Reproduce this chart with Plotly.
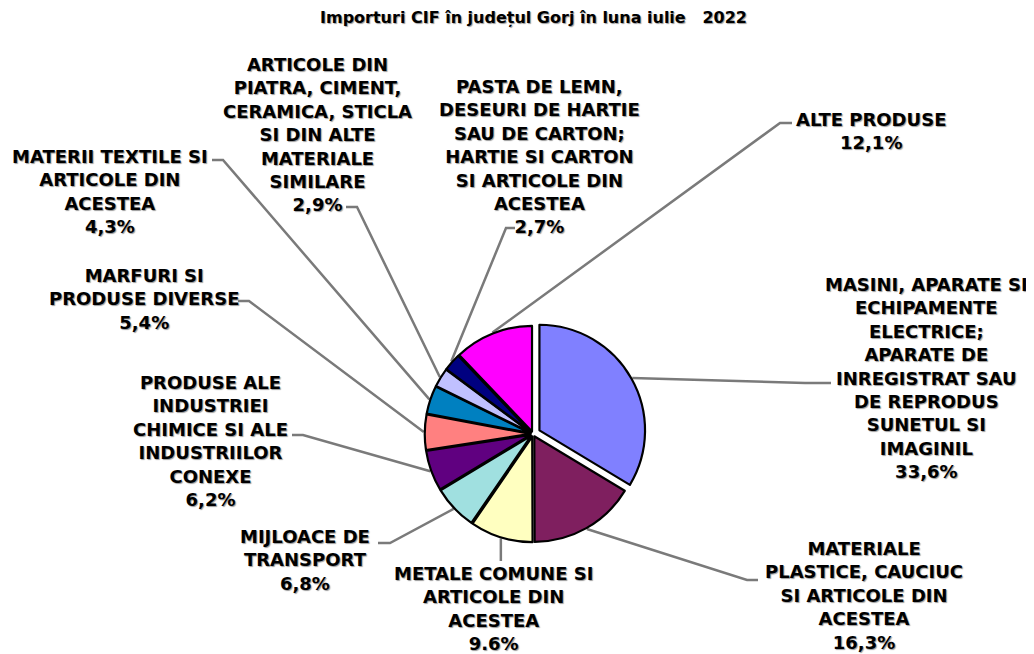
import math
import plotly.graph_objects as go

# page is 1034x654; the browser body has an 8px margin, so the figure is 1026x646
PAGE_W, PAGE_H = 1034, 654
OFF = 8
FW, FH = PAGE_W - OFF, PAGE_H - OFF

# ---- data ----
categories = [
    "MASINI, APARATE SI<br>ECHIPAMENTE<br>ELECTRICE;<br>APARATE DE<br>INREGISTRAT SAU<br>DE REPRODUS<br>SUNETUL SI<br>IMAGINIL",
    "MATERIALE<br>PLASTICE, CAUCIUC<br>SI ARTICOLE DIN<br>ACESTEA",
    "METALE COMUNE SI<br>ARTICOLE DIN<br>ACESTEA",
    "MIJLOACE DE<br>TRANSPORT",
    "PRODUSE ALE<br>INDUSTRIEI<br>CHIMICE SI ALE<br>INDUSTRIILOR<br>CONEXE",
    "MARFURI SI<br>PRODUSE DIVERSE",
    "MATERII TEXTILE SI<br>ARTICOLE DIN<br>ACESTEA",
    "ARTICOLE DIN<br>PIATRA, CIMENT,<br>CERAMICA, STICLA<br>SI DIN ALTE<br>MATERIALE<br>SIMILARE",
    "PASTA DE LEMN,<br>DESEURI DE HARTIE<br>SAU DE CARTON;<br>HARTIE SI CARTON<br>SI ARTICOLE DIN<br>ACESTEA",
    "ALTE PRODUSE",
]
values = [33.6, 16.3, 9.6, 6.8, 6.2, 5.4, 4.3, 2.9, 2.7, 12.1]
pct_labels = ["33,6%", "16,3%", "9.6%", "6,8%", "6,2%", "5,4%", "4,3%", "2,9%", "2,7%", "12,1%"]
title_text = "Importuri CIF în județul Gorj în luna iulie   2022"

# ---- styles / layout ----
colors = ["#8080FF", "#7F1F5F", "#FFFFC0", "#A0E0E0", "#600080",
          "#FF8080", "#0080C0", "#C0C0FF", "#000080", "#FF00FF"]
pulls = [0.07, 0.025, 0.025, 0.025, 0.025, 0.025, 0.025, 0.025, 0.025, 0.025]

def px2paper(x, y):
    return (x - OFF) / FW, 1 - (y - OFF) / FH

# pie placement (page pixels)
CX, CY, RD = 533, 434, 113
x0, y1p = px2paper(CX - RD, CY - RD)
x1, y0p = px2paper(CX + RD, CY + RD)
dom_x = [x0, x1]
dom_y = [y0p, y1p]
r = (2 * RD) / (2 + 2 * max(pulls))

# label centres (x) and first-line centre (y), in page pixels
label_pos = [(926, 285), (864, 549), (493, 574), (305, 537), (210, 383),
             (144, 276), (110, 157), (317, 65), (539, 87), (871, 120)]
# leader knee and end points (page pixels)
knees = [(805, 383), (747, 580), (None, 561), (390, 543), (303, 435),
         (249, 301), (223, 160), (357, 207), (506, 228), (780, 123)]
ends = [(831, 383), (758, 580), (None, 561), (378, 543), (292, 435),
        (238, 301), (212, 160), (346, 207), (515, 228), (792, 123)]

FONT = "DejaVu Sans"
FS = 18
TOP_OFFSET = 0.73 * FS
shadow = "1px 1px 1px #9a9a9a"

fig = go.Figure(go.Pie(
    values=values,
    labels=[c.replace("<br>", " ") for c in categories],
    sort=False,
    direction="clockwise",
    rotation=0,
    pull=pulls,
    marker=dict(colors=colors, line=dict(color="black", width=2.2)),
    textinfo="none",
    hoverinfo="label+percent",
    domain=dict(x=dom_x, y=dom_y),
    showlegend=False,
))

total = sum(values)
cum = 0.0
shapes = []
annotations = []
for i, v in enumerate(values):
    mid = (cum + v / 2) / total * 2 * math.pi
    cum += v
    rr = r * (1 + pulls[i]) + 1
    ex = CX + rr * math.sin(mid)
    ey = CY - rr * math.cos(mid)
    kx, ky = knees[i]
    nx, ny = ends[i]
    if kx is None:
        kx = ex
        nx = ex
    pts = [(ex, ey), (kx, ky), (nx, ny)]
    path = "M " + " L ".join(f"{px2paper(x, y)[0]:.5f},{px2paper(x, y)[1]:.5f}" for x, y in pts)
    shapes.append(dict(type="path", path=path, xref="paper", yref="paper",
                       line=dict(color="#7a7a7a", width=2.5), layer="below"))
    lx, ly = label_pos[i]
    text = categories[i] + "<br>" + pct_labels[i]
    ax, ay = px2paper(lx, ly - TOP_OFFSET)
    annotations.append(dict(
        x=ax, y=ay, xref="paper", yref="paper", xanchor="center", yanchor="top",
        text=text, showarrow=False, align="center",
        font=dict(family=FONT, size=FS, color="black", weight="bold", shadow=shadow),
    ))

tx, ty = px2paper(533, 18)
annotations.append(dict(
    x=tx, y=ty, xref="paper", yref="paper", xanchor="center", yanchor="middle",
    text=title_text, showarrow=False,
    font=dict(family=FONT, size=16, color="black", weight="bold", shadow=shadow),
))

fig.update_layout(
    width=FW, height=FH,
    margin=dict(l=0, r=0, t=0, b=0),
    paper_bgcolor="white", plot_bgcolor="white",
    shapes=shapes, annotations=annotations,
)

fig.write_html("out.html")
